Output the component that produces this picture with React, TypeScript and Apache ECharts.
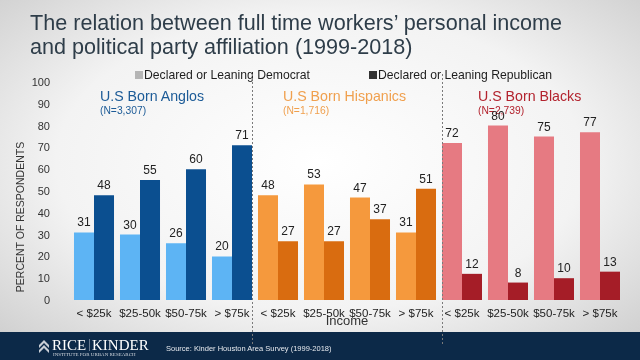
import React, { useEffect, useRef } from "react";
import * as echarts from "echarts";

const incomeLabels = ["< $25k", "$25-50k", "$50-75k", "> $75k"];
const groups = ["U.S Born Anglos", "U.S Born Hispanics", "U.S Born Blacks"];
const groupN = ["(N=3,307)", "(N=1,716)", "(N=2,739)"];
const democrat = [31, 30, 26, 20, 48, 53, 47, 31, 72, 80, 75, 77];
const republican = [48, 55, 60, 71, 27, 27, 37, 51, 12, 8, 10, 13];
const yTicks = [0, 10, 20, 30, 40, 50, 60, 70, 80, 90, 100];

const lightColors = ["#5db4f4", "#f5993d", "#e67a82"];
const darkColors = ["#0b4f90", "#d96c10", "#a51d27"];
const groupTextColors = ["#1c5b97", "#f0a04e", "#b3232e"];

const FONT = "Liberation Sans, Arial, sans-serif";
const GRID_L = 71;
const GRID_R = 623;
const GRID_T = 82;
const GRID_B = 300;

export default function App() {
  const ref = useRef<HTMLDivElement>(null);
  useEffect(() => {
    if (!ref.current) return;
    const chart = echarts.init(ref.current, null, { renderer: "svg" });
    const categories: string[] = [];
    groups.forEach(() => incomeLabels.forEach((l) => categories.push(l)));
    const catW = (GRID_R - GRID_L) / categories.length;

    const mk = (vals: number[], cols: string[]) =>
      vals.map((v, i) => ({ value: v, itemStyle: { color: cols[Math.floor(i / 4)] } }));

    const labelStyle = {
      show: true,
      position: "top" as const,
      distance: 4,
      color: "#222",
      fontSize: 12,
      fontFamily: FONT,
    };

    const graphics: any[] = [
      {
        type: "rect",
        z: -10,
        silent: true,
        shape: { x: 0, y: 0, width: 640, height: 360 },
        style: {
          fill: new echarts.graphic.RadialGradient(0.5, 0.45, 0.75, [
            { offset: 0, color: "#ffffff" },
            { offset: 0.55, color: "#f3f3f3" },
            { offset: 1, color: "#c9c9c9" },
          ]),
        },
      },
      {
        type: "text",
        left: 30,
        top: 10,
        style: {
          text: "The relation between full time workers’ personal income\nand political party affiliation (1999-2018)",
          fontSize: 21.6,
          lineHeight: 24,
          fill: "#2e3d49",
          fontFamily: FONT,
        },
      },
      {
        type: "text",
        x: 20,
        y: 217,
        rotation: Math.PI / 2,
        style: {
          text: "PERCENT OF RESPONDENTS",
          fontSize: 10.5,
          fill: "#333",
          fontFamily: FONT,
          align: "center",
          verticalAlign: "middle",
        },
      },
      {
        type: "rect",
        z: 5,
        shape: { x: 0, y: 332, width: 640, height: 28 },
        style: { fill: "#0c2948" },
      },
      {
        type: "polygon",
        z: 6,
        shape: { points: [[39, 345], [44, 340], [49, 345], [49, 348], [44, 343], [39, 348]] },
        style: { fill: "#c9ced6" },
      },
      {
        type: "polygon",
        z: 6,
        shape: { points: [[39, 350], [44, 345], [49, 350], [49, 353], [44, 348], [39, 353]] },
        style: { fill: "#c9ced6" },
      },
      {
        type: "text",
        z: 6,
        x: 52,
        y: 337,
        style: { text: "RICE", fontSize: 15, fill: "#ffffff", fontFamily: "Liberation Serif, DejaVu Serif, serif" },
      },
      {
        type: "text",
        z: 6,
        x: 88,
        y: 337,
        style: { text: "|", fontSize: 13, fill: "#9aa7b6", fontFamily: "Liberation Serif, serif" },
      },
      {
        type: "text",
        z: 6,
        x: 92,
        y: 337,
        style: { text: "KINDER", fontSize: 15, fill: "#ffffff", fontFamily: "Liberation Serif, DejaVu Serif, serif" },
      },
      {
        type: "text",
        z: 6,
        x: 53,
        y: 352,
        style: { text: "INSTITUTE FOR URBAN RESEARCH", fontSize: 5, fill: "#d5dae0", fontFamily: "Liberation Serif, serif" },
      },
      {
        type: "text",
        z: 6,
        x: 166,
        y: 344,
        style: { text: "Source: Kinder Houston Area Survey (1999-2018)", fontSize: 7.5, fill: "#e6e9ee", fontFamily: FONT },
      },
    ];

    [4, 8].forEach((b, k) => {
      const x = Math.round(GRID_L + b * catW + (k === 0 ? -2 : 4)) - 0.5;
      graphics.push({
        type: "line",
        z: 7,
        shape: { x1: x, y1: 74, x2: x, y2: 344 },
        style: { stroke: "#7a7a7a", lineWidth: 1, lineDash: [2, 2] },
      });
    });

    const groupX = [100, 283, 478];
    groups.forEach((g, i) => {
      graphics.push({
        type: "text",
        x: groupX[i],
        y: 89,
        style: { text: g, fontSize: 14.2, fill: groupTextColors[i], fontFamily: FONT },
      });
      graphics.push({
        type: "text",
        x: groupX[i],
        y: 105,
        style: { text: groupN[i], fontSize: 10.3, fill: groupTextColors[i], fontFamily: FONT },
      });
    });

    const legendText = { fontSize: 12.2, color: "#1e1e1e", padding: [0, 0, 0, -4] };

    chart.setOption({
      animation: false,
      textStyle: { fontFamily: FONT },
      legend: [
        {
          data: ["Declared or Leaning Democrat"],
          left: 130,
          top: 64,
          itemWidth: 8,
          itemHeight: 8,
          icon: "rect",
          textStyle: legendText,
        },
        {
          data: ["Declared or Leaning Republican"],
          left: 364,
          top: 64,
          itemWidth: 8,
          itemHeight: 8,
          icon: "rect",
          textStyle: legendText,
        },
      ],
      grid: { left: GRID_L, right: 640 - GRID_R, top: GRID_T, bottom: 360 - GRID_B },
      xAxis: {
        type: "category",
        data: categories,
        axisLine: { show: false },
        axisTick: { show: false },
        axisLabel: { color: "#222", fontSize: 11.5, margin: 7, interval: 0 },
        name: "Income",
        nameLocation: "middle",
        nameGap: 14,
        nameMoveOverlap: false,
        nameTextStyle: { fontSize: 13, color: "#333", verticalAlign: "top" },
      },
      yAxis: {
        type: "value",
        min: yTicks[0],
        max: yTicks[yTicks.length - 1],
        interval: 10,
        splitLine: { show: false },
        axisLine: { show: false },
        axisTick: { show: false },
        axisLabel: { color: "#333", fontSize: 11, margin: 21 },
      },
      series: [
        {
          name: "Declared or Leaning Democrat",
          type: "bar",
          barGap: "0%",
          barCategoryGap: "13%",
          itemStyle: { color: "#b5b5b5" },
          label: labelStyle,
          data: mk(democrat, lightColors),
        },
        {
          name: "Declared or Leaning Republican",
          type: "bar",
          itemStyle: { color: "#333333" },
          label: labelStyle,
          data: mk(republican, darkColors),
        },
      ],
      graphic: graphics,
    });
    return () => chart.dispose();
  }, []);
  return <div ref={ref} style={{ width: 640, height: 360, position: "fixed", left: 0, top: 0 }} />;
}
